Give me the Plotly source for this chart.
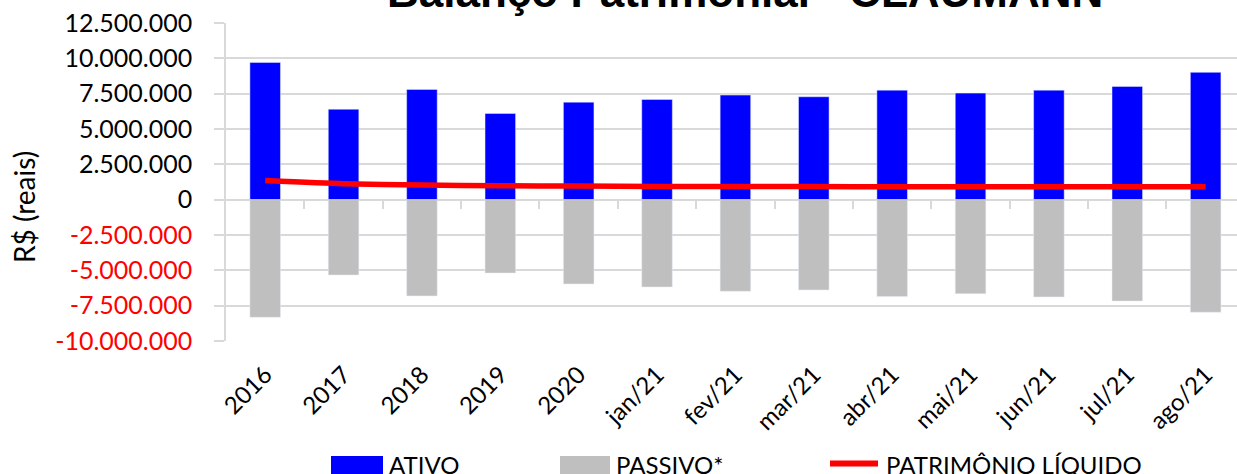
import plotly.graph_objects as go

categories = ["2016", "2017", "2018", "2019", "2020", "jan/21", "fev/21", "mar/21",
              "abr/21", "mai/21", "jun/21", "jul/21", "ago/21"]
ativo = [9710000, 6400000, 7800000, 6100000, 6900000, 7090000, 7400000, 7280000,
         7750000, 7540000, 7750000, 8010000, 9010000]
passivo = [-8320000, -5330000, -6810000, -5190000, -5960000, -6180000, -6480000, -6390000,
           -6860000, -6650000, -6880000, -7170000, -7960000]
patrimonio = [1360000, 1130000, 1030000, 990000, 960000, 940000, 930000, 925000,
              920000, 920000, 920000, 920000, 920000]

y_tickvals = [12500000, 10000000, 7500000, 5000000, 2500000, 0,
              -2500000, -5000000, -7500000, -10000000]
y_ticktext = ["12.500.000", "10.000.000", "7.500.000", "5.000.000", "2.500.000", "0",
              '<span style="color:#ff0000">-2.500.000</span>',
              '<span style="color:#ff0000">-5.000.000</span>',
              '<span style="color:#ff0000">-7.500.000</span>',
              '<span style="color:#ff0000">-10.000.000</span>']

title_text = "Balanço Patrimonial - CLAUMANN"
y_title = "R$ (reais)"
legend_names = ["ATIVO", "PASSIVO*", "PATRIMÔNIO LÍQUIDO"]

W, H = 1237, 474
L, R, T, B = 226, 0, 23, 133
FONT = "Lato, 'Open Sans', sans-serif"
GRID = "#d9d9d9"

fig = go.Figure()
fig.add_trace(go.Bar(x=categories, y=ativo, name=legend_names[0], marker_color="#0000ff",
                     width=0.39, showlegend=False))
fig.add_trace(go.Bar(x=categories, y=passivo, name=legend_names[1], marker_color="#bfbfbf",
                     width=0.39, showlegend=False))
fig.add_trace(go.Scatter(x=categories, y=patrimonio, name=legend_names[2], mode="lines",
                         line=dict(color="#ff0000", width=5.5, shape="spline", smoothing=0.6),
                         showlegend=False))
# helper trace for the zero-crossing tick axis
fig.add_trace(go.Scatter(x=[0], y=[0], xaxis="x2", mode="markers", marker=dict(opacity=0),
                         showlegend=False, hoverinfo="skip"))

fig.update_layout(
    width=W, height=H,
    margin=dict(l=L, r=R, t=T, b=B, pad=0, autoexpand=False),
    plot_bgcolor="white", paper_bgcolor="white",
    barmode="overlay",
    font=dict(family=FONT, size=24, color="#000000"),
    xaxis=dict(type="category", range=[-0.5, 12.4], showgrid=False, zeroline=False,
               showline=False, ticks="", tickangle=-45, automargin=False,
               tickfont=dict(size=24), ticklabelstandoff=14),
    xaxis2=dict(overlaying="x", anchor="free", position=10 / 22.5, range=[-0.5, 12.4],
                tickvals=[i + 0.5 for i in range(12)], ticks="outside", ticklen=8,
                tickwidth=1.5, tickcolor=GRID, showticklabels=False, showgrid=False,
                zeroline=False, showline=False, automargin=False),
    yaxis=dict(range=[-10000000, 12500000], tickvals=y_tickvals, ticktext=y_ticktext,
               showgrid=True, gridcolor=GRID, gridwidth=1.5,
               zeroline=True, zerolinecolor=GRID, zerolinewidth=1.5,
               showline=True, linecolor=GRID, linewidth=1.5,
               ticks="outside", ticklen=10, tickcolor=GRID, tickwidth=1.5,
               ticklabelstandoff=17, tickfont=dict(size=25), automargin=False),
)

pw = W - L - R
ph = H - T - B


def px(x):
    return (x - L) / pw


def py(y):
    return (H - B - y) / ph


# title (cropped at top, as in the reference)
fig.add_annotation(text="<b>" + title_text + "</b>", xref="paper", yref="paper",
                   x=px(745), y=py(-9), xanchor="center", yanchor="middle", showarrow=False,
                   font=dict(family="'Liberation Sans', Arial, sans-serif", size=44, color="#000"))

# y axis title
fig.add_annotation(text=y_title, xref="paper", yref="paper", x=px(24), y=py(207),
                   xanchor="center", yanchor="middle", textangle=-90, showarrow=False,
                   font=dict(size=28, color="#000"))

# custom legend
fig.add_shape(type="rect", xref="paper", yref="paper", x0=px(331), x1=px(383),
              y0=py(456), y1=py(476), fillcolor="#0000ff", line=dict(width=0))
fig.add_shape(type="rect", xref="paper", yref="paper", x0=px(560), x1=px(610),
              y0=py(456), y1=py(476), fillcolor="#bfbfbf", line=dict(width=0))
fig.add_shape(type="line", xref="paper", yref="paper", x0=px(830), x1=px(878),
              y0=py(463.5), y1=py(463.5), line=dict(color="#ff0000", width=6))
for name, xl in zip(legend_names, [387, 614, 884]):
    fig.add_annotation(text=name, xref="paper", yref="paper", x=px(xl), y=py(464),
                       xanchor="left", yanchor="middle", showarrow=False,
                       font=dict(size=24, color="#000"))

fig.write_html("out.html", config={"displayModeBar": False},
               post_script="document.body.style.margin='0';document.body.style.overflow='hidden';")
